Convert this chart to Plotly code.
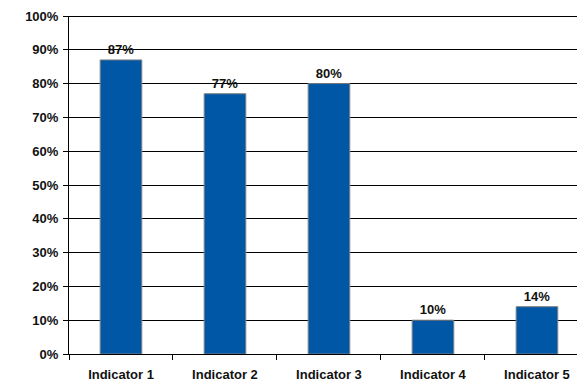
import plotly.graph_objects as go

categories = ["Indicator 1", "Indicator 2", "Indicator 3", "Indicator 4", "Indicator 5"]
values = [87, 77, 80, 10, 14]
y_ticks = [0, 10, 20, 30, 40, 50, 60, 70, 80, 90, 100]
y_tick_labels = [f"{v}%" for v in y_ticks]

FONT = dict(family="Arial, Liberation Sans", size=13, color="#111", weight="bold")

fig = go.Figure(
    go.Bar(
        x=categories,
        y=values,
        width=0.4,
        marker=dict(color="#0057A6", line=dict(color="#7f7f7f", width=1)),
        text=[f"{v}%" for v in values],
        textposition="outside",
        textfont=FONT,
        cliponaxis=False,
    )
)

fig.update_layout(
    width=577,
    height=383,
    margin=dict(l=69, r=0, t=16, b=29),
    plot_bgcolor="white",
    paper_bgcolor="white",
    showlegend=False,
    bargap=0.6,
)
fig.update_xaxes(
    range=[-0.5, 4.385],
    showline=True,
    linecolor="black",
    linewidth=1,
    ticks="outside",
    tickson="boundaries",
    ticklen=5,
    tickcolor="black",
    tickfont=FONT,
    ticklabelstandoff=8,
    showgrid=False,
)
fig.update_yaxes(
    range=[0, 100],
    tickvals=y_ticks,
    ticktext=y_tick_labels,
    showline=True,
    linecolor="black",
    linewidth=1,
    ticks="outside",
    ticklen=5,
    tickcolor="black",
    showgrid=True,
    gridcolor="black",
    gridwidth=1,
    tickfont=FONT,
    ticklabelstandoff=2,
    zeroline=False,
)
fig.add_shape(type="line", xref="paper", yref="y", x0=0, x1=1, y0=100, y1=100,
              line=dict(color="black", width=2))

fig.write_html("out.html")
